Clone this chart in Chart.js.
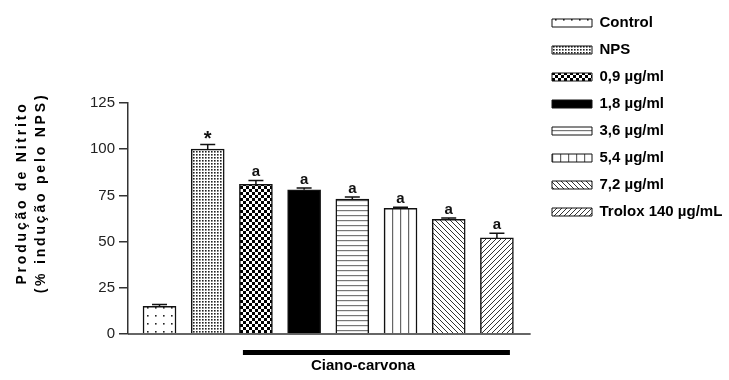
<!DOCTYPE html>
<html>
<head>
<meta charset="utf-8">
<script src="https://cdn.jsdelivr.net/npm/chart.js@4.4.1/dist/chart.umd.min.js"></script>
<style>
  html, body { margin: 0; padding: 0; background: #fff; }
  #wrap { width: 729px; height: 380px; }
</style>
</head>
<body>
<div id="wrap"><canvas id="nitritoChart" width="729" height="380"></canvas></div>
<script>
const categories = ["Control", "NPS", "0,9 µg/ml", "1,8 µg/ml", "3,6 µg/ml", "5,4 µg/ml", "7,2 µg/ml", "Trolox 140 µg/mL"];
const values = [15, 100, 81, 78, 73, 68, 62, 52];
const errors = [1, 2.5, 2, 1, 1.2, 0.6, 0.8, 2.5];
const marks = ["", "*", "a", "a", "a", "a", "a", "a"];
const yTicks = [0, 25, 50, 75, 100, 125];
const groupLabel = "Ciano-carvona";
const yTitle = ["Produção de Nitrito", "(% indução pelo NPS)"];

const FONT = "'Liberation Sans', Arial, Helvetica, sans-serif";

// pattern tiles
function tile(w, h, paint) {
  const c = document.createElement("canvas");
  c.width = w;
  c.height = h;
  const t = c.getContext("2d");
  t.fillStyle = "#fff";
  t.fillRect(0, 0, w, h);
  paint(t);
  return document.getElementById("nitritoChart").getContext("2d").createPattern(c, "repeat");
}

const patterns = [
  tile(8, 8, (t) => { t.fillStyle = "#222"; t.fillRect(3, 3, 1.6, 1.6); }),
  tile(3, 3, (t) => { t.fillStyle = "#222"; t.fillRect(1, 1, 1.6, 1.6); }),
  tile(6, 6, (t) => { t.fillStyle = "#000"; t.fillRect(0, 0, 3, 3); t.fillRect(3, 3, 3, 3); }),
  "#000",
  tile(4, 5, (t) => { t.fillStyle = "#777"; t.fillRect(0, 0, 4, 1.2); }),
  tile(8, 4, (t) => { t.fillStyle = "#666"; t.fillRect(0, 0, 1.2, 4); }),
  tile(5, 5, (t) => {
    t.strokeStyle = "#333"; t.lineWidth = 1;
    t.beginPath(); t.moveTo(-1, -1); t.lineTo(6, 6); t.moveTo(-1, 4); t.lineTo(1, 6); t.moveTo(4, -1); t.lineTo(6, 1); t.stroke();
  }),
  tile(5, 5, (t) => {
    t.strokeStyle = "#333"; t.lineWidth = 1;
    t.beginPath(); t.moveTo(-1, 6); t.lineTo(6, -1); t.moveTo(-1, 1); t.lineTo(1, -1); t.moveTo(4, 6); t.lineTo(6, 4); t.stroke();
  }),
];

const extrasPlugin = {
  id: "extras",
  afterDatasetsDraw(chart) {
    const { ctx, chartArea } = chart;
    const x = chart.scales.x;
    const y = chart.scales.y;
    ctx.save();

    // eixo x
    ctx.strokeStyle = "#333";
    ctx.lineWidth = 1.5;
    ctx.beginPath();
    ctx.moveTo(chartArea.left, chartArea.bottom);
    ctx.lineTo(x.getPixelForValue(7.7), chartArea.bottom);
    ctx.stroke();

    // barras de erro e letras
    ctx.strokeStyle = "#111";
    ctx.lineWidth = 1.5;
    ctx.fillStyle = "#111";
    ctx.textAlign = "center";
    ctx.textBaseline = "bottom";
    values.forEach((v, i) => {
      const px = x.getPixelForValue(i);
      const top = y.getPixelForValue(v);
      const cap = y.getPixelForValue(v + errors[i]);
      ctx.beginPath();
      ctx.moveTo(px, top);
      ctx.lineTo(px, cap);
      ctx.moveTo(px - 7.5, cap);
      ctx.lineTo(px + 7.5, cap);
      ctx.stroke();
      if (marks[i] === "*") {
        ctx.font = "bold 20px " + FONT;
        ctx.fillText(marks[i], px, cap + 5);
      } else if (marks[i]) {
        ctx.font = "bold 15px " + FONT;
        ctx.fillText(marks[i], px, cap - 1);
      }
    });

    // Ciano-carvona
    const x0 = x.getPixelForValue(2) - 13;
    const x1 = x.getPixelForValue(7) + 13;
    ctx.fillStyle = "#000";
    ctx.fillRect(x0, chartArea.bottom + 16, x1 - x0, 5);
    ctx.font = "bold 15px " + FONT;
    ctx.textBaseline = "middle";
    ctx.fillText(groupLabel, 363, chartArea.bottom + 32);

    // titulo do eixo y
    ctx.save();
    ctx.translate(22, 193);
    ctx.rotate(-Math.PI / 2);
    ctx.font = "bold 14px " + FONT;
    ctx.letterSpacing = "2.8px";
    ctx.textBaseline = "middle";
    ctx.fillText(yTitle[0], 0, 0);
    ctx.fillText(yTitle[1], 0, 19);
    ctx.restore();

    ctx.restore();
  },
};

new Chart(document.getElementById("nitritoChart"), {
  type: "bar",
  data: {
    datasets: [
      {
        data: categories.map((c, i) => ({ x: i, y: values[i] })),
        backgroundColor: patterns,
        borderColor: "#111",
        borderWidth: 1.5,
        barThickness: 33,
      },
    ],
  },
  options: {
    responsive: false,
    animation: false,
    layout: { padding: { top: 3.5, right: 0, bottom: 46, left: 0 } },
    plugins: {
      tooltip: { enabled: false },
      title: {
        display: true,
        text: "",
        font: { size: 10 },
        padding: { top: 0, bottom: 87.5 },
      },
      legend: {
        position: "right",
        align: "start",
        maxWidth: 189,
        labels: {
          boxWidth: 40,
          boxHeight: 8,
          padding: 12,
          color: "#111",
          font: { family: FONT, size: 15, weight: "bold" },
          generateLabels: () =>
            categories.map((c, i) => ({
              text: c,
              fillStyle: patterns[i],
              strokeStyle: "#111",
              lineWidth: 1,
              hidden: false,
              index: i,
            })),
        },
      },
    },
    scales: {
      x: {
        type: "linear",
        display: false,
        offset: false,
        min: -0.654,
        max: 7.894,
      },
      y: {
        min: 0,
        max: 125,
        afterFit: (scale) => { scale.width = 128; },
        afterBuildTicks: (scale) => { scale.ticks = yTicks.map((v) => ({ value: v })); },
        grid: { drawOnChartArea: false, tickLength: 9, color: "#333", lineWidth: 1.5 },
        border: { color: "#333", width: 1.5 },
        ticks: { padding: 4, color: "#222", font: { family: FONT, size: 15 } },
      },
    },
  },
  plugins: [extrasPlugin],
});
</script>
</body>
</html>
